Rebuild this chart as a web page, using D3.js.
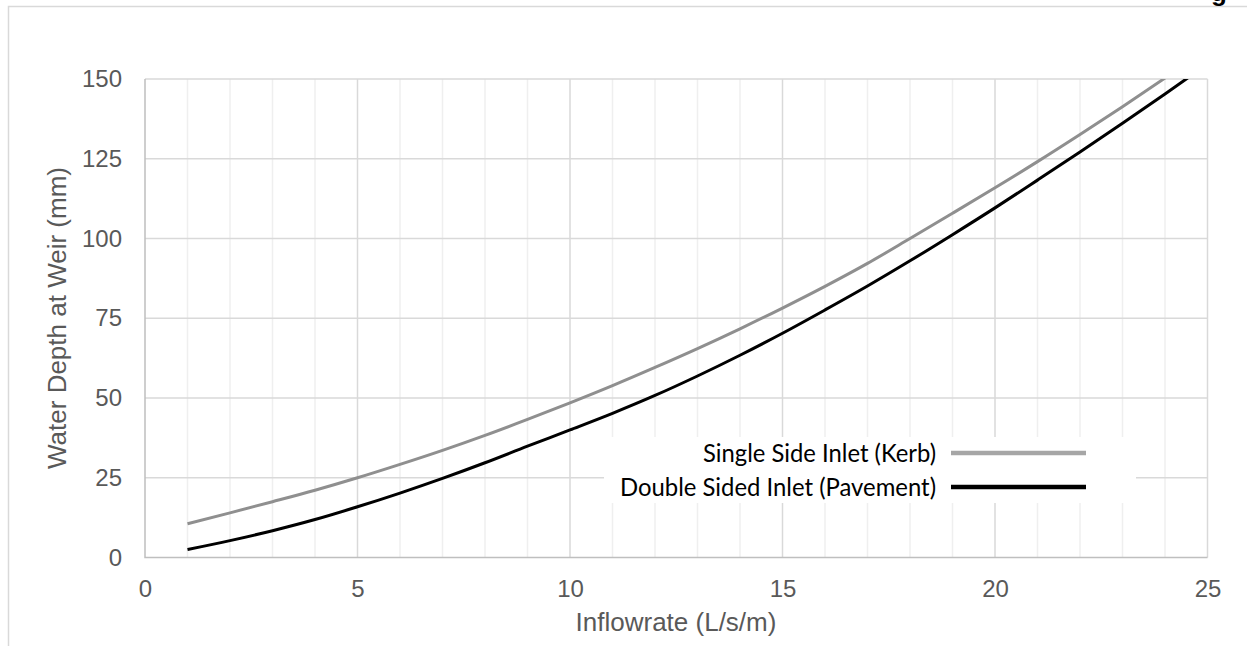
<!DOCTYPE html>
<html>
<head>
<meta charset="utf-8">
<script src="https://cdn.jsdelivr.net/npm/d3@7"></script>
<style>
  body { margin: 0; background: #fff; }
  svg { display: block; }
</style>
</head>
<body>
<script>
// values
var flow = [1, 2, 3, 4, 5, 6, 7, 8, 9, 10, 11, 12, 13, 14, 15, 16, 17, 18, 19, 20, 21, 22, 23, 24, 25];
var singleSide = [10.6, 14.0, 17.5, 21.1, 25.0, 29.2, 33.6, 38.3, 43.3, 48.5, 53.9, 59.6, 65.5, 71.7, 78.2, 85.0, 92.2, 100.0, 107.9, 115.9, 124.1, 132.6, 141.3, 150.3, 159.5];
var doubleSided = [2.5, 5.3, 8.4, 11.9, 15.9, 20.2, 24.8, 29.7, 34.9, 40.0, 45.2, 50.8, 56.9, 63.4, 70.3, 77.6, 85.1, 93.0, 101.2, 109.6, 118.3, 127.1, 136.1, 145.3, 154.7];
var seriesNames = ['Single Side Inlet (Kerb)', 'Double Sided Inlet (Pavement)'];
var xTicks = [0, 5, 10, 15, 20, 25];
var yTicks = [0, 25, 50, 75, 100, 125, 150];

var width = 1247,
	height = 646;

var svg = d3.select('body').append('svg')
	.attr('width', width)
	.attr('height', height);

var x = d3.scaleLinear().domain([0, 25]).range([145, 1207.5]);
var y = d3.scaleLinear().domain([0, 150]).range([557.5, 79]);

// chart area border (only top and left show in the crop)
svg.append('path')
	.attr('d', 'M8.5,' + height + 'V6.5H' + width)
	.attr('fill', 'none')
	.attr('stroke', '#d9d9d9')
	.attr('stroke-width', 1.5);

// title is cut off by the crop, only the tail of its last letter shows
svg.append('text')
	.attr('x', 1211)
	.attr('y', 0.5)
	.attr('font-family', 'Liberation Sans, Arial, sans-serif')
	.attr('font-weight', 'bold')
	.attr('font-size', 26)
	.attr('fill', '#000')
	.text('g');

// minor vertical grid
var minor = d3.range(1, 25).filter(function (d) { return d % 5 != 0; });
svg.append('g').selectAll('line')
	.data(minor)
	.enter().append('line')
	.attr('x1', function (d) { return x(d); })
	.attr('x2', function (d) { return x(d); })
	.attr('y1', y(0))
	.attr('y2', y(150))
	.attr('stroke', '#efefef')
	.attr('stroke-width', 1.5);

// major grid
svg.append('g').selectAll('line')
	.data(xTicks.slice(1))
	.enter().append('line')
	.attr('x1', function (d) { return x(d); })
	.attr('x2', function (d) { return x(d); })
	.attr('y1', y(0))
	.attr('y2', y(150))
	.attr('stroke', '#d9d9d9')
	.attr('stroke-width', 1.5);

svg.append('g').selectAll('line')
	.data(yTicks.slice(1))
	.enter().append('line')
	.attr('x1', x(0))
	.attr('x2', x(25))
	.attr('y1', function (d) { return y(d); })
	.attr('y2', function (d) { return y(d); })
	.attr('stroke', '#d9d9d9')
	.attr('stroke-width', 1.5);

// axis lines
svg.append('path')
	.attr('d', 'M' + x(0) + ',' + y(150) + 'V' + y(0) + 'H' + x(25))
	.attr('fill', 'none')
	.attr('stroke', '#bfbfbf')
	.attr('stroke-width', 1.5);

var xAxis = svg.append('g')
	.attr('transform', 'translate(0,' + y(0) + ')')
	.call(d3.axisBottom(x).tickValues(xTicks).tickSize(0).tickPadding(22));
var yAxis = svg.append('g')
	.attr('transform', 'translate(' + x(0) + ',0)')
	.call(d3.axisLeft(y).tickValues(yTicks).tickSize(0).tickPadding(23));

[xAxis, yAxis].forEach(function (a) {
	a.select('.domain').remove();
	a.selectAll('text')
		.attr('fill', '#595959')
		.attr('font-family', 'Liberation Sans, Arial, sans-serif')
		.attr('font-size', 24);
});

// axis titles
svg.append('text')
	.attr('x', 676)
	.attr('y', 631)
	.attr('text-anchor', 'middle')
	.attr('fill', '#595959')
	.attr('font-family', 'Liberation Sans, Arial, sans-serif')
	.attr('font-size', 26)
	.text('Inflowrate (L/s/m)');

svg.append('text')
	.attr('transform', 'translate(66,318) rotate(-90)')
	.attr('text-anchor', 'middle')
	.attr('fill', '#595959')
	.attr('font-family', 'Liberation Sans, Arial, sans-serif')
	.attr('font-size', 26)
	.text('Water Depth at Weir (mm)');

// curves
svg.append('clipPath').attr('id', 'plot')
	.append('rect')
	.attr('x', x(0)).attr('y', y(150))
	.attr('width', x(25) - x(0)).attr('height', y(0) - y(150));

var line = d3.line()
	.x(function (d) { return x(d[0]); })
	.y(function (d) { return y(d[1]); })
	.curve(d3.curveMonotoneX);

var curves = [
	{ vals: singleSide, color: '#8f8f8f' },
	{ vals: doubleSided, color: '#000000' }
];

svg.append('g')
	.attr('clip-path', 'url(#plot)')
	.selectAll('path')
	.data(curves)
	.enter().append('path')
	.attr('d', function (c) { return line(d3.zip(flow, c.vals)); })
	.attr('fill', 'none')
	.attr('stroke', function (c) { return c.color; })
	.attr('stroke-width', 3);

// legend
svg.append('rect')
	.attr('x', 604).attr('y', 437)
	.attr('width', 532).attr('height', 66)
	.attr('fill', '#fff');

var legendColors = ['#a6a6a6', '#000000'];
var legendWidths = [233, 316];
var legend = svg.append('g').selectAll('g')
	.data(seriesNames)
	.enter().append('g')
	.attr('transform', function (d, i) { return 'translate(0,' + (453 + i * 34) + ')'; });

legend.append('text')
	.attr('x', 936)
	.attr('y', 9)
	.attr('text-anchor', 'end')
	.attr('font-family', 'Lato, "Open Sans", sans-serif')
	.attr('font-size', 25)
	.attr('fill', '#000')
	.attr('textLength', function (d, i) { return legendWidths[i]; })
	.attr('lengthAdjust', 'spacingAndGlyphs')
	.text(function (d) { return d; });

legend.append('line')
	.attr('x1', 951).attr('x2', 1086)
	.attr('y1', 0).attr('y2', 0)
	.attr('stroke', function (d, i) { return legendColors[i]; })
	.attr('stroke-width', 4.5);
</script>
</body>
</html>
